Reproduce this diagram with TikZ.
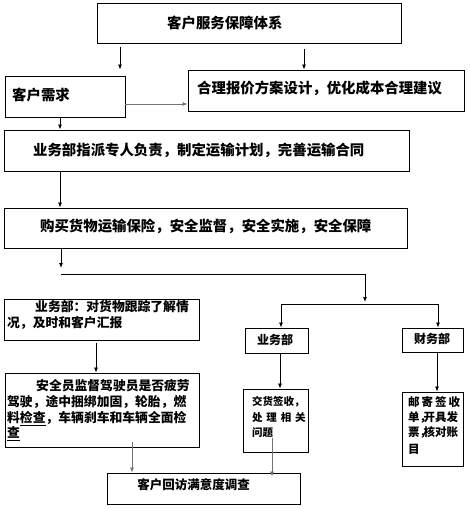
\documentclass[tikz,border=0pt]{standalone}
\usepackage{fontspec}
\setmainfont{Noto Sans CJK SC}
\usetikzlibrary{arrows.meta}
\tikzset{
  box/.style={draw=black, line width=0.9pt, inner sep=0pt, fill=white},
  txt/.style={inner sep=0pt, anchor=west, text height=0.88em, text depth=0.12em, font=\bfseries},
  ctxt/.style={txt, anchor=center},
  conn/.style={draw=black, line width=0.8pt},
  arr/.style={conn, -{Latex[length=5pt,width=4pt]}},
  garr/.style={arr, draw=black!55},
}
\begin{document}
\begin{tikzpicture}[x=1pt,y=-1pt]
\useasboundingbox[fill=white] (0,0) rectangle (470,509);
% boxes
\node[box, minimum width=304pt, minimum height=40pt] (b1) at (249,23) {};
\node[box, minimum width=120pt, minimum height=41pt] (b2) at (65,96.5) {};
\node[box, minimum width=276pt, minimum height=41pt] (b3) at (326,90.5) {};
\node[box, minimum width=405pt, minimum height=41pt] (b4) at (206.5,150.5) {};
\node[box, minimum width=403pt, minimum height=40pt] (b5) at (205.5,228) {};
\node[box, minimum width=195pt, minimum height=41pt] (b6) at (101.5,319.5) {};
\node[box, minimum width=194pt, minimum height=74pt] (b7) at (102,410) {};
\node[box, minimum width=63pt, minimum height=25pt] (b8) at (276.5,340.5) {};
\node[box, minimum width=61pt, minimum height=24pt] (b9) at (432.5,340) {};
\node[box, minimum width=65pt, minimum height=63pt] (b10) at (275.5,420.5) {};
\node[box, minimum width=61pt, minimum height=74pt] (b11) at (432.5,429) {};
\node[box, minimum width=193pt, minimum height=31pt] (b12) at (203.5,488.5) {};
% texts
\node[txt, font=\fontsize{14.4pt}{16pt}\bfseries] (t1) at (167,25) {客户服务保障体系};
\node[txt, font=\fontsize{14.4pt}{16pt}\bfseries] (t2) at (12,97) {客户需求};
\node[txt, font=\fontsize{14.4pt}{16pt}\bfseries] (t3) at (197,90) {合理报价方案设计，优化成本合理建议};
\node[txt, font=\fontsize{14.4pt}{16pt}\bfseries] (t4) at (33,152) {业务部指派专人负责，制定运输计划，完善运输合同};
\node[txt, font=\fontsize{14.4pt}{16pt}\bfseries] (t5) at (40,228) {购买货物运输保险，安全监督，安全实施，安全保障};
\node[txt, font=\fontsize{12.8pt}{15pt}\bfseries] (t6a) at (35,308) {业务部：对货物跟踪了解情};
\node[txt, font=\fontsize{12.8pt}{15pt}\bfseries] (t6b) at (7,324) {况，及时和客户汇报};
\node[txt, font=\fontsize{12.8pt}{15pt}\bfseries] (t7a) at (36,387) {安全员监督驾驶员是否疲劳};
\node[txt, font=\fontsize{12.8pt}{15pt}\bfseries] (t7b) at (7,403) {驾驶，途中捆绑加固，轮胎，燃};
\node[txt, font=\fontsize{12.8pt}{15pt}\bfseries] (t7c) at (7,419) {料\underline{检查}，车辆刹车和车辆全面检};
\node[txt, font=\fontsize{12.8pt}{15pt}\bfseries] (t7d) at (7,434) {\underline{查}};
\node[ctxt, font=\fontsize{12pt}{14pt}\bfseries] (t8) at (275,341) {业务部};
\node[ctxt, font=\fontsize{12pt}{14pt}\bfseries] (t9) at (432,340) {财务部};
\node[txt, font=\fontsize{10.5pt}{12pt}\bfseries] (t10a) at (252,402) {交货签收，};
\node[txt, font=\fontsize{10.5pt}{12pt}\bfseries] (t10b) at (252,418) {处\hspace{3.8pt}理\hspace{3.8pt}相\hspace{3.8pt}关};
\node[txt, font=\fontsize{10.5pt}{12pt}\bfseries] (t10c) at (252,433) {问题};
\node[txt, font=\fontsize{11.5pt}{13pt}\bfseries] (t11a) at (408,403) {邮\hspace{2pt}寄\hspace{2pt}签\hspace{2pt}收};
\node[txt, font=\fontsize{11.5pt}{13pt}\bfseries] (t11b) at (408,418) {单，\kern-0.65em开具发};
\node[txt, font=\fontsize{11.5pt}{13pt}\bfseries] (t11c) at (408,433) {票，\kern-0.65em核对账};
\node[txt, font=\fontsize{11.5pt}{13pt}\bfseries] (t11d) at (408,450) {目};
\node[ctxt, font=\fontsize{12.5pt}{14pt}\bfseries] (t12) at (193.5,486) {客户回访满意度调查};
% junction coordinates
\coordinate (j0) at (61,268);
\coordinate (j1) at (61,274);
\coordinate (j2) at (365,274);
\coordinate (j3) at (365,302);
\coordinate (j4) at (281,304);
\coordinate (j5) at (438,304);
% connectors
\draw[arr, shorten <=4pt, shorten >=6pt] (120,0 |- b1.south) -- (120,0 |- b2.north);
\draw[arr, shorten <=6pt] (304,0 |- b1.south) -- (304,0 |- b3.north);
\draw[garr] (b2.east |- 0,104) -- (b3.west |- 0,104);
\draw[arr] (60,0 |- b2.south) -- (60,0 |- b4.north);
\draw[arr] (60,0 |- b4.south) -- (60,0 |- b5.north);
\draw[arr] (61,0 |- b5.south) -- (j0);
\draw[conn] (j1) -- (j2);
\draw[arr] (j2) -- (j3);
\draw[conn] (j4) -- (j5);
\draw[arr] (j4) -- (j4 |- b8.north);
\draw[arr] (j5) -- (j5 |- b9.north);
\draw[arr, shorten <=3pt] (96,0 |- b6.south) -- (96,0 |- b7.north);
\draw[garr, shorten <=-5pt] (132,0 |- b7.south) -- (132,0 |- b12.north);
\draw[arr] (280,0 |- b8.south) -- (280,0 |- b10.north);
\draw[arr] (437,0 |- b9.south) -- (437,0 |- b11.north);
\draw[garr, shorten <=-14pt, shorten >=-4pt] (272,0 |- b10.south) -- (272,0 |- b12.north);
\end{tikzpicture}
\end{document}
